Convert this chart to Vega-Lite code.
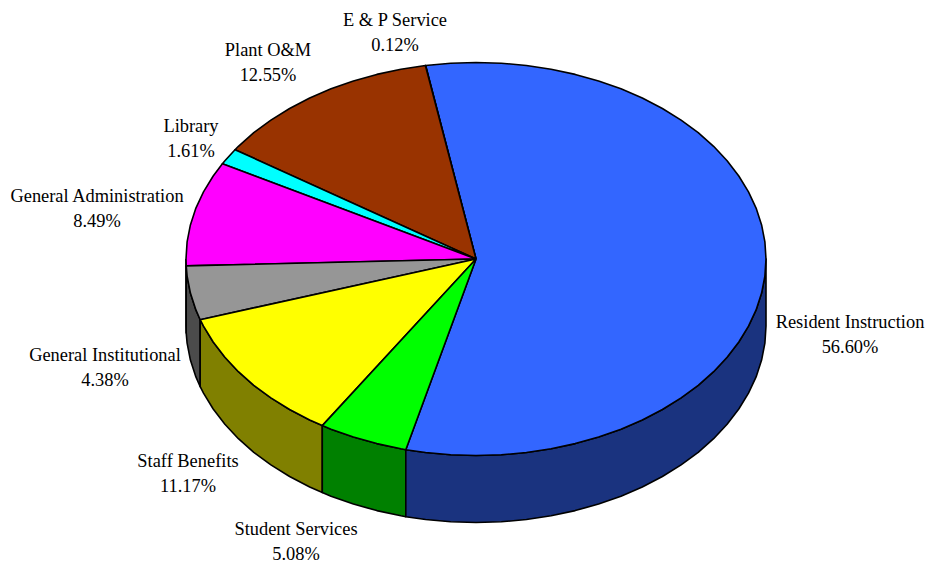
{"$schema":"https://vega.github.io/schema/vega-lite/v6.json","width":930,"height":567,"padding":0,"autosize":{"type":"fit","contains":"padding"},"background":"white","view":{"stroke":null},
"datasets":{"walls":[
{"p":"GA wall","i":0,"x":-290,"y":0},{"p":"GA wall","i":1,"x":-289.8,"y":-6.9},{"p":"GA wall","i":2,"x":-289.8,"y":-73.9},{"p":"GA wall","i":3,"x":-290,"y":-67},{"p":"GA wall","i":4,"x":-290,"y":0},
{"p":"GI wall","i":0,"x":-289.8,"y":-6.9},{"p":"GI wall","i":1,"x":-288.9,"y":-17.1},{"p":"GI wall","i":2,"x":-285.6,"y":-34.1},{"p":"GI wall","i":3,"x":-280.1,"y":-50.9},{"p":"GI wall","i":4,"x":-275.8,"y":-60.7},{"p":"GI wall","i":5,"x":-275.8,"y":-127.7},{"p":"GI wall","i":6,"x":-280.1,"y":-117.9},{"p":"GI wall","i":7,"x":-285.6,"y":-101.1},{"p":"GI wall","i":8,"x":-288.9,"y":-84.1},{"p":"GI wall","i":9,"x":-289.8,"y":-73.9},{"p":"GI wall","i":10,"x":-289.8,"y":-6.9},
{"p":"SB wall","i":0,"x":-275.8,"y":-60.7},{"p":"SB wall","i":1,"x":-272.5,"y":-67.2},{"p":"SB wall","i":2,"x":-262.8,"y":-83},{"p":"SB wall","i":3,"x":-251.1,"y":-98.25},{"p":"SB wall","i":4,"x":-237.6,"y":-112.7},{"p":"SB wall","i":5,"x":-222.2,"y":-126.3},{"p":"SB wall","i":6,"x":-205.1,"y":-138.9},{"p":"SB wall","i":7,"x":-186.4,"y":-150.5},{"p":"SB wall","i":8,"x":-166.3,"y":-161},{"p":"SB wall","i":9,"x":-153.7,"y":-166.6},{"p":"SB wall","i":10,"x":-153.7,"y":-233.6},{"p":"SB wall","i":11,"x":-166.3,"y":-228},{"p":"SB wall","i":12,"x":-186.4,"y":-217.5},{"p":"SB wall","i":13,"x":-205.1,"y":-205.9},{"p":"SB wall","i":14,"x":-222.2,"y":-193.3},{"p":"SB wall","i":15,"x":-237.6,"y":-179.7},{"p":"SB wall","i":16,"x":-251.1,"y":-165.25},{"p":"SB wall","i":17,"x":-262.8,"y":-150},{"p":"SB wall","i":18,"x":-272.5,"y":-134.2},{"p":"SB wall","i":19,"x":-275.8,"y":-127.7},{"p":"SB wall","i":20,"x":-275.8,"y":-60.7},
{"p":"SS wall","i":0,"x":-153.7,"y":-166.6},{"p":"SS wall","i":1,"x":-145,"y":-170.2},{"p":"SS wall","i":2,"x":-122.6,"y":-178.1},{"p":"SS wall","i":3,"x":-99.2,"y":-184.6},{"p":"SS wall","i":4,"x":-75.1,"y":-189.8},{"p":"SS wall","i":5,"x":-70.2,"y":-190.7},{"p":"SS wall","i":6,"x":-70.2,"y":-257.7},{"p":"SS wall","i":7,"x":-75.1,"y":-256.8},{"p":"SS wall","i":8,"x":-99.2,"y":-251.6},{"p":"SS wall","i":9,"x":-122.6,"y":-245.1},{"p":"SS wall","i":10,"x":-145,"y":-237.2},{"p":"SS wall","i":11,"x":-153.7,"y":-233.6},{"p":"SS wall","i":12,"x":-153.7,"y":-166.6},
{"p":"RI wall","i":0,"x":-70.2,"y":-190.7},{"p":"RI wall","i":1,"x":-50.4,"y":-193.5},{"p":"RI wall","i":2,"x":-25.3,"y":-195.8},{"p":"RI wall","i":3,"x":0,"y":-196.5},{"p":"RI wall","i":4,"x":25.3,"y":-195.8},{"p":"RI wall","i":5,"x":50.4,"y":-193.5},{"p":"RI wall","i":6,"x":75.1,"y":-189.8},{"p":"RI wall","i":7,"x":99.2,"y":-184.6},{"p":"RI wall","i":8,"x":122.6,"y":-178.1},{"p":"RI wall","i":9,"x":145,"y":-170.2},{"p":"RI wall","i":10,"x":166.3,"y":-161},{"p":"RI wall","i":11,"x":186.4,"y":-150.5},{"p":"RI wall","i":12,"x":205.1,"y":-138.9},{"p":"RI wall","i":13,"x":222.2,"y":-126.3},{"p":"RI wall","i":14,"x":237.6,"y":-112.7},{"p":"RI wall","i":15,"x":251.1,"y":-98.25},{"p":"RI wall","i":16,"x":262.8,"y":-83},{"p":"RI wall","i":17,"x":272.5,"y":-67.2},{"p":"RI wall","i":18,"x":280.1,"y":-50.9},{"p":"RI wall","i":19,"x":285.6,"y":-34.1},{"p":"RI wall","i":20,"x":288.9,"y":-17.1},{"p":"RI wall","i":21,"x":290,"y":0},{"p":"RI wall","i":22,"x":290,"y":-67},{"p":"RI wall","i":23,"x":288.9,"y":-84.1},{"p":"RI wall","i":24,"x":285.6,"y":-101.1},{"p":"RI wall","i":25,"x":280.1,"y":-117.9},{"p":"RI wall","i":26,"x":272.5,"y":-134.2},{"p":"RI wall","i":27,"x":262.8,"y":-150},{"p":"RI wall","i":28,"x":251.1,"y":-165.25},{"p":"RI wall","i":29,"x":237.6,"y":-179.7},{"p":"RI wall","i":30,"x":222.2,"y":-193.3},{"p":"RI wall","i":31,"x":205.1,"y":-205.9},{"p":"RI wall","i":32,"x":186.4,"y":-217.5},{"p":"RI wall","i":33,"x":166.3,"y":-228},{"p":"RI wall","i":34,"x":145,"y":-237.2},{"p":"RI wall","i":35,"x":122.6,"y":-245.1},{"p":"RI wall","i":36,"x":99.2,"y":-251.6},{"p":"RI wall","i":37,"x":75.1,"y":-256.8},{"p":"RI wall","i":38,"x":50.4,"y":-260.5},{"p":"RI wall","i":39,"x":25.3,"y":-262.8},{"p":"RI wall","i":40,"x":0,"y":-263.5},{"p":"RI wall","i":41,"x":-25.3,"y":-262.8},{"p":"RI wall","i":42,"x":-50.4,"y":-260.5},{"p":"RI wall","i":43,"x":-70.2,"y":-257.7},{"p":"RI wall","i":44,"x":-70.2,"y":-190.7}
],
"tops":[
{"p":"Resident Instruction","i":0,"x":0,"y":0},{"p":"Resident Instruction","i":1,"x":-70.2,"y":-190.7},{"p":"Resident Instruction","i":2,"x":-50.4,"y":-193.5},{"p":"Resident Instruction","i":3,"x":-25.3,"y":-195.8},{"p":"Resident Instruction","i":4,"x":0,"y":-196.5},{"p":"Resident Instruction","i":5,"x":25.3,"y":-195.8},{"p":"Resident Instruction","i":6,"x":50.4,"y":-193.5},{"p":"Resident Instruction","i":7,"x":75.1,"y":-189.8},{"p":"Resident Instruction","i":8,"x":99.2,"y":-184.6},{"p":"Resident Instruction","i":9,"x":122.6,"y":-178.1},{"p":"Resident Instruction","i":10,"x":145,"y":-170.2},{"p":"Resident Instruction","i":11,"x":166.3,"y":-161},{"p":"Resident Instruction","i":12,"x":186.4,"y":-150.5},{"p":"Resident Instruction","i":13,"x":205.1,"y":-138.9},{"p":"Resident Instruction","i":14,"x":222.2,"y":-126.3},{"p":"Resident Instruction","i":15,"x":237.6,"y":-112.7},{"p":"Resident Instruction","i":16,"x":251.1,"y":-98.25},{"p":"Resident Instruction","i":17,"x":262.8,"y":-83},{"p":"Resident Instruction","i":18,"x":272.5,"y":-67.2},{"p":"Resident Instruction","i":19,"x":280.1,"y":-50.9},{"p":"Resident Instruction","i":20,"x":285.6,"y":-34.1},{"p":"Resident Instruction","i":21,"x":288.9,"y":-17.1},{"p":"Resident Instruction","i":22,"x":290,"y":0},{"p":"Resident Instruction","i":23,"x":288.9,"y":17.1},{"p":"Resident Instruction","i":24,"x":285.6,"y":34.1},{"p":"Resident Instruction","i":25,"x":280.1,"y":50.9},{"p":"Resident Instruction","i":26,"x":272.5,"y":67.2},{"p":"Resident Instruction","i":27,"x":262.8,"y":83},{"p":"Resident Instruction","i":28,"x":251.1,"y":98.25},{"p":"Resident Instruction","i":29,"x":237.6,"y":112.7},{"p":"Resident Instruction","i":30,"x":222.2,"y":126.3},{"p":"Resident Instruction","i":31,"x":205.1,"y":138.9},{"p":"Resident Instruction","i":32,"x":186.4,"y":150.5},{"p":"Resident Instruction","i":33,"x":166.3,"y":161},{"p":"Resident Instruction","i":34,"x":145,"y":170.2},{"p":"Resident Instruction","i":35,"x":122.6,"y":178.1},{"p":"Resident Instruction","i":36,"x":99.2,"y":184.6},{"p":"Resident Instruction","i":37,"x":75.1,"y":189.8},{"p":"Resident Instruction","i":38,"x":50.4,"y":193.5},{"p":"Resident Instruction","i":39,"x":25.3,"y":195.8},{"p":"Resident Instruction","i":40,"x":0,"y":196.5},{"p":"Resident Instruction","i":41,"x":-25.3,"y":195.8},{"p":"Resident Instruction","i":42,"x":-50.4,"y":193.5},{"p":"Resident Instruction","i":43,"x":0,"y":0},
{"p":"E & P Service","i":0,"x":0,"y":0},{"p":"E & P Service","i":1,"x":-50.4,"y":193.5},{"p":"E & P Service","i":2,"x":-50.6,"y":193.47},{"p":"E & P Service","i":3,"x":0,"y":0},
{"p":"Plant O&M","i":0,"x":0,"y":0},{"p":"Plant O&M","i":1,"x":-50.6,"y":193.47},{"p":"Plant O&M","i":2,"x":-75.1,"y":189.8},{"p":"Plant O&M","i":3,"x":-99.2,"y":184.6},{"p":"Plant O&M","i":4,"x":-122.6,"y":178.1},{"p":"Plant O&M","i":5,"x":-145,"y":170.2},{"p":"Plant O&M","i":6,"x":-166.3,"y":161},{"p":"Plant O&M","i":7,"x":-186.4,"y":150.5},{"p":"Plant O&M","i":8,"x":-205.1,"y":138.9},{"p":"Plant O&M","i":9,"x":-222.2,"y":126.3},{"p":"Plant O&M","i":10,"x":-237.6,"y":112.7},{"p":"Plant O&M","i":11,"x":-241,"y":109.3},{"p":"Plant O&M","i":12,"x":0,"y":0},
{"p":"Library","i":0,"x":0,"y":0},{"p":"Library","i":1,"x":-241,"y":109.3},{"p":"Library","i":2,"x":-251.1,"y":98.25},{"p":"Library","i":3,"x":-253.6,"y":95.3},{"p":"Library","i":4,"x":0,"y":0},
{"p":"General Administration","i":0,"x":0,"y":0},{"p":"General Administration","i":1,"x":-253.6,"y":95.3},{"p":"General Administration","i":2,"x":-262.8,"y":83},{"p":"General Administration","i":3,"x":-272.5,"y":67.2},{"p":"General Administration","i":4,"x":-280.1,"y":50.9},{"p":"General Administration","i":5,"x":-285.6,"y":34.1},{"p":"General Administration","i":6,"x":-288.9,"y":17.1},{"p":"General Administration","i":7,"x":-290,"y":0},{"p":"General Administration","i":8,"x":-289.8,"y":-6.9},{"p":"General Administration","i":9,"x":0,"y":0},
{"p":"General Institutional","i":0,"x":0,"y":0},{"p":"General Institutional","i":1,"x":-289.8,"y":-6.9},{"p":"General Institutional","i":2,"x":-288.9,"y":-17.1},{"p":"General Institutional","i":3,"x":-285.6,"y":-34.1},{"p":"General Institutional","i":4,"x":-280.1,"y":-50.9},{"p":"General Institutional","i":5,"x":-275.8,"y":-60.7},{"p":"General Institutional","i":6,"x":0,"y":0},
{"p":"Staff Benefits","i":0,"x":0,"y":0},{"p":"Staff Benefits","i":1,"x":-275.8,"y":-60.7},{"p":"Staff Benefits","i":2,"x":-272.5,"y":-67.2},{"p":"Staff Benefits","i":3,"x":-262.8,"y":-83},{"p":"Staff Benefits","i":4,"x":-251.1,"y":-98.25},{"p":"Staff Benefits","i":5,"x":-237.6,"y":-112.7},{"p":"Staff Benefits","i":6,"x":-222.2,"y":-126.3},{"p":"Staff Benefits","i":7,"x":-205.1,"y":-138.9},{"p":"Staff Benefits","i":8,"x":-186.4,"y":-150.5},{"p":"Staff Benefits","i":9,"x":-166.3,"y":-161},{"p":"Staff Benefits","i":10,"x":-153.7,"y":-166.6},{"p":"Staff Benefits","i":11,"x":0,"y":0},
{"p":"Student Services","i":0,"x":0,"y":0},{"p":"Student Services","i":1,"x":-153.7,"y":-166.6},{"p":"Student Services","i":2,"x":-145,"y":-170.2},{"p":"Student Services","i":3,"x":-122.6,"y":-178.1},{"p":"Student Services","i":4,"x":-99.2,"y":-184.6},{"p":"Student Services","i":5,"x":-75.1,"y":-189.8},{"p":"Student Services","i":6,"x":-70.2,"y":-190.7},{"p":"Student Services","i":7,"x":0,"y":0}
],
"labels":[
{"label":"Resident Instruction\n56.60%","x":374,"y":-63},
{"label":"E & P Service\n0.12%","x":-81,"y":239},
{"label":"Plant O&M\n12.55%","x":-208,"y":209},
{"label":"Library\n1.61%","x":-285,"y":133},
{"label":"General Administration\n8.49%","x":-379,"y":63},
{"label":"General Institutional\n4.38%","x":-371,"y":-96},
{"label":"Staff Benefits\n11.17%","x":-288,"y":-202},
{"label":"Student Services\n5.08%","x":-180,"y":-270}
]},
"layer":[
{"data":{"name":"walls"},"mark":{"type":"line","stroke":"black","strokeWidth":1.6,"strokeJoin":"round"},"encoding":{"x":{"field":"x","type":"quantitative","axis":null,"scale":{"domain":[-476,454],"nice":false,"zero":false}},"y":{"field":"y","type":"quantitative","axis":null,"scale":{"domain":[-308,259],"nice":false,"zero":false}},"order":{"field":"i","type":"quantitative"},"detail":{"field":"p"},"fill":{"field":"p","type":"nominal","legend":null,"scale":{"domain":["GA wall","GI wall","SB wall","SS wall","RI wall","Resident Instruction","E & P Service","Plant O&M","Library","General Administration","General Institutional","Staff Benefits","Student Services"],"range":["#800080","#4B4B4B","#808000","#008000","#1A337F","#3366FF","#000080","#993300","#00FFFF","#FF00FF","#969696","#FFFF00","#00FF00"]}}}},
{"data":{"name":"tops"},"mark":{"type":"line","stroke":"black","strokeWidth":1.6,"strokeJoin":"round"},"encoding":{"x":{"field":"x","type":"quantitative"},"y":{"field":"y","type":"quantitative"},"order":{"field":"i","type":"quantitative"},"detail":{"field":"p"},"fill":{"field":"p","type":"nominal","legend":null}}},
{"data":{"name":"labels"},"mark":{"type":"text","font":"Liberation Serif","fontSize":18.4,"lineBreak":"\n","lineHeight":25,"align":"center","baseline":"middle","fill":"black"},"encoding":{"x":{"field":"x","type":"quantitative"},"y":{"field":"y","type":"quantitative"},"text":{"field":"label"}}}
]}
